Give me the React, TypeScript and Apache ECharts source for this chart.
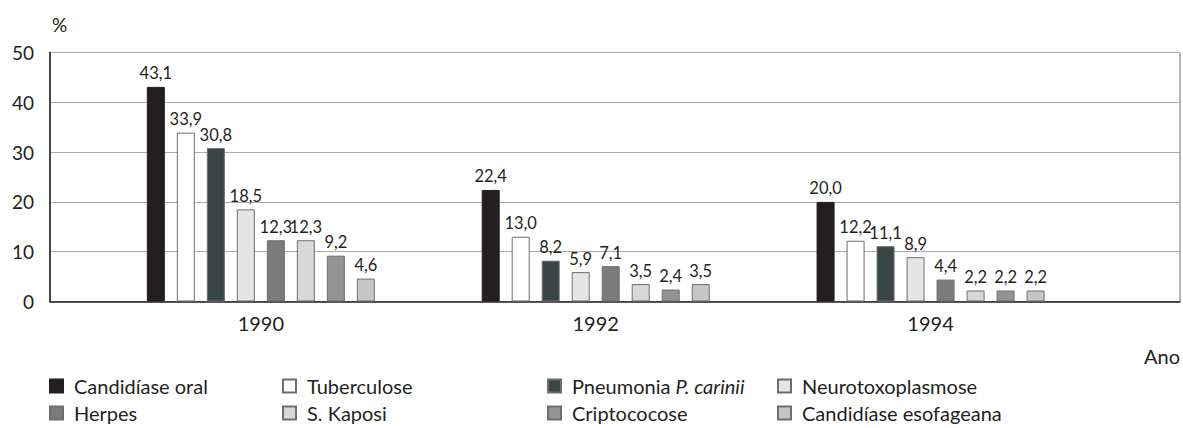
import React, { useEffect, useRef } from "react";
import * as echarts from "echarts";

const years = ["1990", "1992", "1994"];
const seriesNames = [
  "Candidíase oral",
  "Tuberculose",
  "Pneumonia P. carinii",
  "Neurotoxoplasmose",
  "Herpes",
  "S. Kaposi",
  "Criptococose",
  "Candidíase esofageana",
];
const candidiaseOral = [43.1, 22.4, 20.0];
const tuberculose = [33.9, 13.0, 12.2];
const pneumonia = [30.8, 8.2, 11.1];
const neurotoxoplasmose = [18.5, 5.9, 8.9];
const herpes = [12.3, 7.1, 4.4];
const kaposi = [12.3, 3.5, 2.2];
const criptococose = [9.2, 2.4, 2.2];
const candidiaseEsofageana = [4.6, 3.5, 2.2];
const seriesValues = [
  candidiaseOral,
  tuberculose,
  pneumonia,
  neurotoxoplasmose,
  herpes,
  kaposi,
  criptococose,
  candidiaseEsofageana,
];
const yTicks = [0, 10, 20, 30, 40, 50];

const colors = ["#231f20", "#ffffff", "#3a4545", "#e5e5e5", "#7b7b7b", "#d8d8d8", "#939393", "#c6c6c6"];
const FONT = "Lato, 'Open Sans', sans-serif";
const TXT = "#231f20";

const legendPos = [
  [49, 376],
  [282, 376],
  [547, 376],
  [777, 376],
  [49, 403],
  [282, 403],
  [547, 403],
  [777, 403],
];

export default function App() {
  const ref = useRef<HTMLDivElement>(null);
  useEffect(() => {
    if (!ref.current) return;
    const chart = echarts.init(ref.current, undefined, { renderer: "svg" });
    const top = 52.5;
    const height = 249;
    const option: any = {
      animation: false,
      textStyle: { fontFamily: FONT },
      title: {
        text: "%",
        left: 52,
        top: 15,
        padding: 0,
        textStyle: { fontFamily: FONT, fontSize: 19, fontWeight: "normal", color: TXT },
      },
      graphic: [
        {
          type: "text",
          right: 3,
          top: 346,
          style: { text: "Ano", fontFamily: FONT, fontSize: 20, fill: TXT },
        },
      ],
      grid: [
        { left: 50, right: 3, top, height, show: true, borderColor: "#6a6a6a", borderWidth: 1, backgroundColor: "transparent" },
        { left: 93.4, width: 1004.6, top, height },
      ],
      xAxis: [
        {
          type: "category",
          gridIndex: 0,
          data: ["x"],
          axisLine: { show: true, lineStyle: { color: "#231f20", width: 1.5 } },
          axisTick: { show: false },
          axisLabel: { show: false },
          splitLine: { show: false },
        },
        {
          type: "category",
          gridIndex: 1,
          data: years,
          axisLine: { show: false },
          axisTick: { show: false },
          axisLabel: { show: true, fontFamily: FONT, fontSize: 20, color: TXT, margin: 11 },
        },
      ],
      yAxis: [
        {
          type: "value",
          gridIndex: 0,
          min: yTicks[0],
          max: yTicks[yTicks.length - 1],
          interval: 10,
          axisLine: { show: true, lineStyle: { color: "#231f20", width: 1.5 } },
          axisTick: { show: false },
          axisLabel: { fontFamily: FONT, fontSize: 19, color: TXT, margin: 16 },
          splitLine: { show: true, lineStyle: { color: "#ababab", width: 1 } },
        },
        {
          type: "value",
          gridIndex: 1,
          min: 0,
          max: 50,
          interval: 10,
          show: false,
          splitLine: { show: false },
        },
      ],
      legend: seriesNames.map((name, i) => ({
        data: [name],
        left: legendPos[i][0],
        top: legendPos[i][1],
        padding: 0,
        itemWidth: 13,
        itemHeight: 13,
        icon: "rect",
        selectedMode: false,
        formatter: (n: string) =>
          n === "Pneumonia P. carinii" ? "{n|Pneumonia }{i|P. carinii}" : "{n|" + n + "}",
        textStyle: {
          fontFamily: FONT,
          fontSize: 20,
          color: TXT,
          padding: [0, 0, 0, 6],
          rich: {
            n: { fontFamily: FONT, fontSize: 20, color: TXT },
            i: { fontFamily: FONT, fontSize: 20, color: TXT, fontStyle: "italic" },
          },
        },
      })),
      series: seriesValues.map((vals, i) => ({
        type: "bar",
        name: seriesNames[i],
        xAxisIndex: 1,
        yAxisIndex: 1,
        data: vals,
        barWidth: 18,
        barGap: "66.67%",
        itemStyle: {
          color: colors[i],
          borderColor: i === 0 ? "#231f20" : "#6e6e6e",
          borderWidth: 1,
        },
        label: {
          show: true,
          position: "top",
          distance: 5,
          fontFamily: FONT,
          fontSize: 16.5,
          color: TXT,
          formatter: (p: any) => Number(p.value).toFixed(1).replace(".", ","),
        },
      })),
    };
    chart.setOption(option);
    return () => chart.dispose();
  }, []);
  return (
    <div
      ref={ref}
      style={{ position: "fixed", left: 0, top: 0, width: 1183, height: 428, background: "#fff" }}
    />
  );
}
